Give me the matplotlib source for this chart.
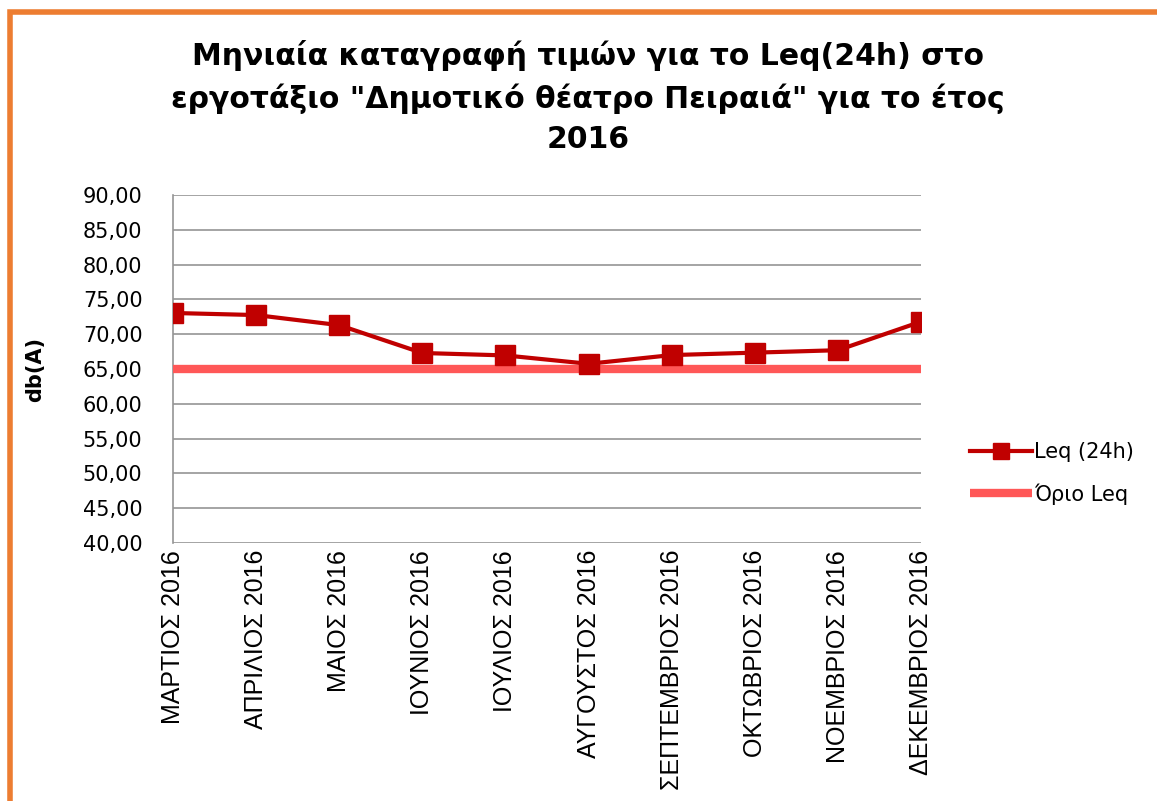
import matplotlib
matplotlib.use("Agg")
import matplotlib.pyplot as plt
from matplotlib.patches import Rectangle
from matplotlib.ticker import FuncFormatter

# monthly Leq(24h) readings, dB(A)
months = ["ΜΑΡΤΙΟΣ 2016", "ΑΠΡΙΛΙΟΣ 2016", "ΜΑΙΟΣ 2016", "ΙΟΥΝΙΟΣ 2016",
          "ΙΟΥΛΙΟΣ 2016", "ΑΥΓΟΥΣΤΟΣ 2016", "ΣΕΠΤΕΜΒΡΙΟΣ 2016",
          "ΟΚΤΩΒΡΙΟΣ 2016", "ΝΟΕΜΒΡΙΟΣ 2016", "ΔΕΚΕΜΒΡΙΟΣ 2016"]
leq_24h = [73.05, 72.75, 71.3, 67.3, 66.95, 65.75, 67.0, 67.35, 67.7, 71.8]
leq_limit = [65.0] * len(months)

title = 'Μηνιαία καταγραφή τιμών για το Leq(24h) στο\nεργοτάξιο "Δημοτικό θέατρο Πειραιά" για το έτος\n2016'

fig = plt.figure(figsize=(11.57, 8.01), dpi=100)
ax = fig.add_axes([173/1157, 1 - 543/801, (921-173)/1157, (543-195)/801])

x = list(range(len(months)))
ax.plot(x, leq_24h, color="#C00000", lw=3, marker="s", ms=14,
        label="Leq (24h)", zorder=4)
ax.plot(x, leq_limit, color="#FF5757", lw=6, label="Όριο Leq",
        solid_capstyle="butt", zorder=3)

ax.set_xlim(0, len(months) - 1)
ax.set_ylim(40, 90)
ax.set_yticks(range(40, 91, 5))
ax.yaxis.set_major_formatter(FuncFormatter(lambda v, p: f"{v:.2f}".replace(".", ",")))
ax.set_xticks(x)
ax.set_xticklabels(months, rotation=90, fontsize=18, family="Liberation Sans")
ax.tick_params(axis="y", labelsize=15, length=0, pad=22)
ax.tick_params(axis="x", length=0, pad=5)
ax.grid(axis="y", color="#959595", lw=1.2)
ax.set_axisbelow(True)
for s in ["top", "right", "bottom"]:
    ax.spines[s].set_visible(False)
ax.spines["left"].set_color("#959595")
ax.spines["left"].set_linewidth(1.2)

fig.text(35/1157, 1 - 370/801, "db(A)", rotation=90, fontsize=15,
         fontweight="bold", ha="center", va="center")
fig.text(588/1157, 1 - 97/801, title, fontsize=21.5, fontweight="bold",
         ha="center", va="center", linespacing=1.48)

ax.legend(loc="center left", bbox_to_anchor=(1.04, 0.2), frameon=False,
          fontsize=15, handlelength=3, labelspacing=1.0, handletextpad=0.1,
          markerscale=0.85)

# orange frame around the chart area
fig.patches.append(Rectangle((10/1157, -0.1), 1.2, 1 - 11.5/801 + 0.1,
                             transform=fig.transFigure, fill=False,
                             edgecolor="#ED7D31", lw=4, zorder=0))

fig.savefig("out.png", dpi=100)
